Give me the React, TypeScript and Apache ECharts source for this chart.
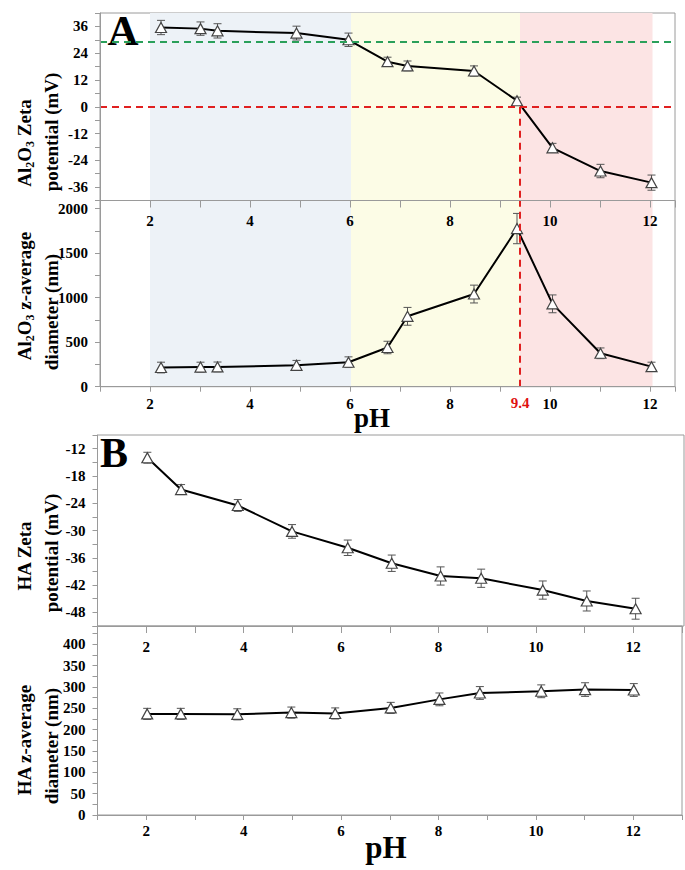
import React, { useEffect, useRef } from "react";
import * as echarts from "echarts";

// ---------- data ----------
const pHA = [2.22, 3.01, 3.35, 4.93, 5.97, 6.75, 7.15, 8.48, 9.34, 10.05, 11.01, 12.03];
const zetaA = [35.5, 35.0, 34.0, 33.0, 30.0, 20.2, 18.3, 16.0, 2.7, -18.4, -28.8, -34.0];
const zetaAErr = [3.2, 3.0, 3.2, 3.1, 3.0, 2.0, 2.2, 2.3, 1.6, 2.0, 3.0, 3.4];
const diamA = [215, 220, 222, 240, 275, 440, 790, 1040, 1775, 930, 375, 225];
const diamAErr = [60, 55, 55, 55, 60, 70, 100, 100, 170, 100, 60, 50];

const pHBZeta = [2.02, 2.71, 3.87, 4.98, 6.12, 7.02, 8.02, 8.85, 10.11, 11.01, 12.01];
const zetaB = [-14.0, -21.0, -24.5, -30.2, -33.8, -37.2, -40.0, -40.5, -43.1, -45.5, -47.2];
const zetaBErr = [1.2, 1.1, 1.3, 1.5, 1.7, 1.8, 2.0, 2.0, 2.0, 2.2, 2.3];
const pHBDiam = [2.02, 2.71, 3.87, 4.98, 5.88, 7.02, 8.02, 8.85, 10.11, 11.01, 12.01];
const diamB = [237, 237, 236, 240, 238, 251, 271, 286, 290, 294, 293];
const diamBErr = [13, 13, 13, 13, 13, 13, 15, 15, 15, 16, 15];

const regionBounds = [
  [2.0, 6.02],
  [6.02, 9.4],
  [9.4, 12.05],
];
const regionColors = ["#edf2f7", "#fcfce6", "#fce4e4"];
const greenLevel = 29;
const iepPH = 9.4;

// ---------- helpers ----------
const FF = "'Liberation Serif', 'Times New Roman', serif";
const AXC = "#9a9a9a";

const pts = (xs: number[], ys: number[]) => xs.map((x, i) => [x, ys[i]]);
const errs = (xs: number[], ys: number[], es: number[]) =>
  xs.map((x, i) => [x, ys[i] - es[i], ys[i] + es[i]]);

const labelStyle = {
  fontFamily: FF,
  fontWeight: "bold",
  fontSize: 15,
  color: "#000",
};

function errSeries(xi: number, yi: number, data: number[][]) {
  return {
    type: "custom",
    xAxisIndex: xi,
    yAxisIndex: yi,
    data,
    z: 2,
    silent: true,
    encode: { x: 0, y: [1, 2] },
    renderItem: (params: any, api: any) => {
      const top = api.coord([api.value(0), api.value(2)]);
      const bot = api.coord([api.value(0), api.value(1)]);
      const w = 4;
      const style = { stroke: "#555", lineWidth: 1 };
      return {
        type: "group",
        children: [
          { type: "line", shape: { x1: top[0], y1: top[1], x2: bot[0], y2: bot[1] }, style },
          { type: "line", shape: { x1: top[0] - w, y1: top[1], x2: top[0] + w, y2: top[1] }, style },
          { type: "line", shape: { x1: bot[0] - w, y1: bot[1], x2: bot[0] + w, y2: bot[1] }, style },
        ],
      };
    },
  };
}

function lineSeries(xi: number, yi: number, data: number[][]) {
  return {
    type: "line",
    xAxisIndex: xi,
    yAxisIndex: yi,
    data,
    z: 3,
    symbol: "triangle",
    symbolSize: [11, 10],
    itemStyle: { color: "#fff", borderColor: "#444", borderWidth: 1.2 },
    lineStyle: { color: "#000", width: 2 },
    emphasis: { disabled: true },
  };
}

function areaSeries(xi: number, yi: number, data: number[][]) {
  return {
    type: "line",
    xAxisIndex: xi,
    yAxisIndex: yi,
    data,
    z: 1,
    silent: true,
    showSymbol: false,
    symbol: "none",
    lineStyle: { opacity: 0 },
    markArea: {
      silent: true,
      data: regionBounds.map((b, i) => [
        { xAxis: b[0], itemStyle: { color: regionColors[i] } },
        { xAxis: b[1] },
      ]),
    },
  };
}

function refSeries(xi: number, yi: number, data: number[][], lines: any[]) {
  return {
    type: "line",
    xAxisIndex: xi,
    yAxisIndex: yi,
    data,
    z: 2,
    silent: true,
    showSymbol: false,
    symbol: "none",
    lineStyle: { opacity: 0 },
    markLine: {
      silent: true,
      symbol: ["none", "none"],
      label: { show: false },
      lineStyle: { type: [7, 5], width: 2, color: "#e02020" },
      data: lines,
    },
  };
}

function valueXAxis(grid: number, max: number, opts: any) {
  return {
    type: "value",
    gridIndex: grid,
    min: 1,
    max,
    interval: 1,
    z: 10,
    splitLine: { show: false },
    axisLine: { show: true, lineStyle: { color: AXC } },
    ...opts,
  };
}

function valueYAxis(grid: number, min: number, max: number, interval: number, labelEvery: number) {
  return {
    type: "value",
    gridIndex: grid,
    min,
    max,
    interval,
    z: 10,
    splitLine: { show: false },
    axisLine: { show: true, lineStyle: { color: AXC } },
    axisTick: { show: true, length: 5, lineStyle: { color: AXC } },
    axisLabel: {
      ...labelStyle,
      margin: 12,
      formatter: (v: number) =>
        Math.abs(Math.round(v) % labelEvery) === 0 && Math.abs(v - Math.round(v)) < 1e-9 ? String(v) : "",
      showMaxLabel: true,
      showMinLabel: true,
    },
  };
}

const evenFmt = (v: number) => (Math.round(v) % 2 === 0 ? String(v) : "");

function titleLine(x: number, y: number, rich: string, size: number) {
  return {
    type: "text",
    x,
    y,
    rotation: Math.PI / 2,
    silent: true,
    style: {
      text: rich,
      align: "center",
      verticalAlign: "middle",
      fill: "#000",
      rich: {
        m: { fontFamily: FF, fontWeight: "bold", fontSize: size, lineHeight: size + 4, fill: "#000", verticalAlign: "middle" },
        s: { fontFamily: FF, fontWeight: "bold", fontSize: Math.round(size * 0.65), lineHeight: Math.round(size * 0.65), fill: "#000", verticalAlign: "bottom" },
      },
    },
  };
}

function plainText(x: number, y: number, text: string, size: number, fill = "#000") {
  return {
    type: "text",
    x,
    y,
    silent: true,
    style: {
      text,
      fontFamily: FF,
      fontWeight: "bold",
      fontSize: size,
      fill,
      align: "center",
      verticalAlign: "middle",
    },
  };
}

export default function App() {
  const ref = useRef<HTMLDivElement>(null);

  useEffect(() => {
    document.body.style.margin = "0";
    if (!ref.current) return;
    const chart = echarts.init(ref.current, undefined, { renderer: "svg" });

    const gridBase = { show: true, borderColor: AXC, borderWidth: 1, backgroundColor: "transparent", containLabel: false };

    const option: any = {
      animation: false,
      backgroundColor: "#fff",
      grid: [
        { ...gridBase, left: 100, right: 10, top: 13, height: 187.5 },
        { ...gridBase, left: 100, right: 10, top: 200.5, height: 186.2 },
        { ...gridBase, left: 97.5, right: 1, top: 435, height: 191 },
        { ...gridBase, left: 97.5, right: 1, top: 626, height: 189 },
      ],
      xAxis: [
        // 0: panel A top (hidden)
        valueXAxis(0, 12.5, { axisLine: { show: false }, axisTick: { show: false }, axisLabel: { show: false } }),
        // 1: panel A bottom
        valueXAxis(1, 12.5, {
          position: "bottom",
          axisTick: { show: true, length: 5, lineStyle: { color: AXC } },
          axisLabel: { ...labelStyle, margin: 10, formatter: evenFmt },
        }),
        // 2: panel A lower, top axis with inside labels
        valueXAxis(1, 12.5, {
          position: "top",
          axisTick: { show: true, inside: true, length: 7, lineStyle: { color: AXC } },
          axisLabel: { ...labelStyle, inside: true, margin: 13, formatter: evenFmt },
        }),
        // 3: panel B top (hidden)
        valueXAxis(2, 13, { axisLine: { show: false }, axisTick: { show: false }, axisLabel: { show: false } }),
        // 4: panel B bottom
        valueXAxis(3, 13, {
          position: "bottom",
          axisTick: { show: true, length: 5, lineStyle: { color: AXC } },
          axisLabel: { ...labelStyle, margin: 8, formatter: evenFmt },
        }),
        // 5: panel B lower, top axis with inside labels
        valueXAxis(3, 13, {
          position: "top",
          axisTick: { show: true, inside: true, length: 7, lineStyle: { color: AXC } },
          axisLabel: { ...labelStyle, inside: true, margin: 13, formatter: evenFmt },
        }),
      ],
      yAxis: [
        valueYAxis(0, -42, 42, 6, 12),
        valueYAxis(1, 0, 2090, 250, 500),
        valueYAxis(2, -51, -9, 3, 6),
        valueYAxis(3, 0, 443, 25, 50),
      ],
      series: [
        // Panel A top
        areaSeries(0, 0, pts(pHA, zetaA)),
        refSeries(0, 0, pts(pHA, zetaA), [
          { yAxis: greenLevel, lineStyle: { color: "#2aa05a" } },
          { yAxis: 0 },
          [{ coord: [iepPH, 0] }, { coord: [iepPH, -42] }],
        ]),
        errSeries(0, 0, errs(pHA, zetaA, zetaAErr)),
        lineSeries(0, 0, pts(pHA, zetaA)),
        // Panel A bottom
        areaSeries(1, 1, pts(pHA, diamA)),
        {
          ...refSeries(1, 1, pts(pHA, diamA), [
            {
              xAxis: iepPH,
              label: {
                show: true,
                position: "start",
                formatter: String(iepPH),
                color: "#e01010",
                fontFamily: FF,
                fontWeight: "bold",
                fontSize: 15,
                distance: 9,
              },
            },
          ]),
        },
        errSeries(1, 1, errs(pHA, diamA, diamAErr)),
        lineSeries(1, 1, pts(pHA, diamA)),
        // Panel B top
        errSeries(3, 2, errs(pHBZeta, zetaB, zetaBErr)),
        lineSeries(3, 2, pts(pHBZeta, zetaB)),
        // Panel B bottom
        errSeries(4, 3, errs(pHBDiam, diamB, diamBErr)),
        lineSeries(4, 3, pts(pHBDiam, diamB)),
      ],
      graphic: [
        plainText(123, 30.5, "A", 43),
        plainText(114, 452.5, "B", 42),
        plainText(372, 418, "pH", 27),
        plainText(386, 847, "pH", 31),
        titleLine(24, 143, "{m|Al}{s|2}{m|O}{s|3}{m| Zeta}", 19),
        titleLine(51, 132, "{m|potential (mV)}", 19),
        titleLine(24, 296, "{m|Al}{s|2}{m|O}{s|3}{m| z-average}", 19),
        titleLine(51, 312, "{m|diameter (nm)}", 19),
        titleLine(24, 556, "{m|HA Zeta}", 19),
        titleLine(51, 553, "{m|potential (mV)}", 19),
        titleLine(24, 740, "{m|HA z-average}", 19),
        titleLine(51, 746, "{m|diameter (nm)}", 19),
      ],
    };

    chart.setOption(option);
    return () => chart.dispose();
  }, []);

  return <div ref={ref} style={{ width: 685, height: 870 }} />;
}
